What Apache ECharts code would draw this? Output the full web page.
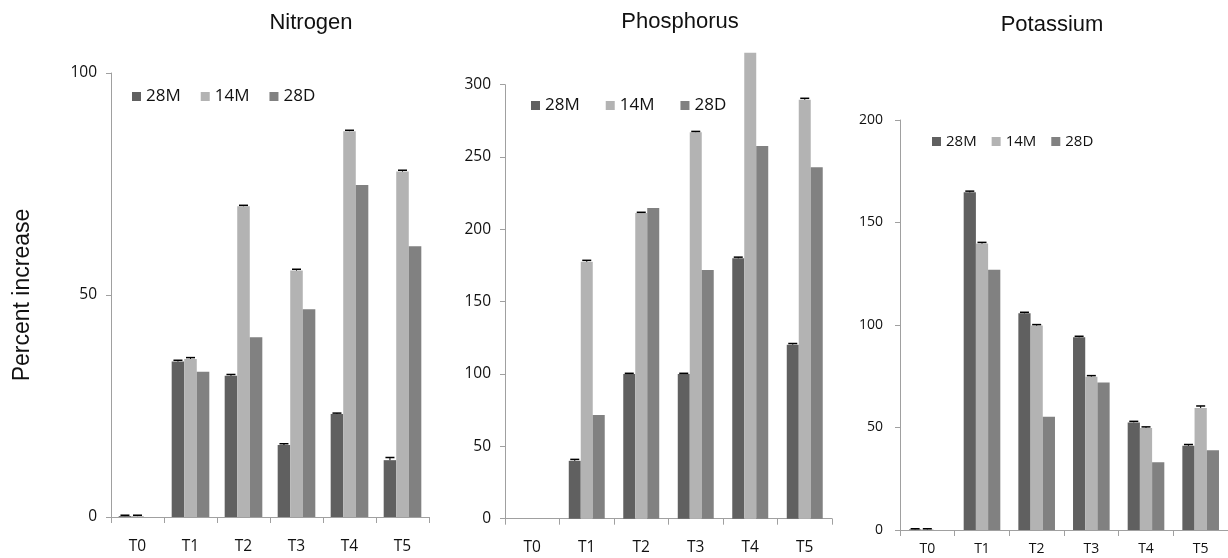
<!DOCTYPE html>
<html>
<head>
<meta charset="utf-8">
<script src="https://cdn.jsdelivr.net/npm/echarts@6/dist/echarts.min.js"></script>
<style>html,body{margin:0;padding:0;background:#fff;}#c{width:1228px;height:558px;}</style>
</head>
<body>
<div id="c"></div>
<script>
const categories = ['T0', 'T1', 'T2', 'T3', 'T4', 'T5'];
const seriesNames = ['28M', '14M', '28D'];
const panelTitles = ['Nitrogen', 'Phosphorus', 'Potassium'];
const yAxisName = 'Percent increase';
const yAxisMax = [100, 300, 200];
const yAxisInterval = [50, 50, 50];

const nitrogen28M = [0.2, 35.0, 31.8, 16.2, 23.2, 12.8];
const nitrogen14M = [0.2, 35.6, 70.0, 55.5, 86.9, 77.8];
const nitrogen28D = [0, 32.7, 40.5, 46.8, 74.8, 61.0];
const nitrogenErr28M = [0.2, 0.3, 0.3, 0.3, 0.2, 0.6];
const nitrogenErr14M = [0.2, 0.3, 0.2, 0.3, 0.2, 0.3];

const phosphorus28M = [0, 40, 100, 100, 180, 120.3];
const phosphorus14M = [0, 177.6, 211.3, 267.2, 322, 289.6];
const phosphorus28D = [0, 71.7, 214.7, 171.9, 257.6, 243];
const phosphorusErr28M = [null, 1, 0.5, 0.5, 0.8, 0.8];
const phosphorusErr14M = [null, 1, 0.5, 0.5, null, 1];

const potassium28M = [0.3, 164.7, 105.7, 94, 52.5, 41.1];
const potassium14M = [0.3, 139.7, 99.7, 74.8, 49.8, 59.5];
const potassium28D = [0, 127, 55.3, 72, 33, 38.9];
const potassiumErr28M = [0.3, 0.6, 0.5, 0.5, 0.5, 0.6];
const potassiumErr14M = [0.3, 0.6, 0.5, 0.5, 0.5, 1.0];

const colors = ['#606060', '#b3b3b3', '#818181'];
const gaps = [0.29, 0.34, 0.33];

const panels = [
  { values: [nitrogen28M, nitrogen14M, nitrogen28D], errs: [nitrogenErr28M, nitrogenErr14M, null] },
  { values: [phosphorus28M, phosphorus14M, phosphorus28D], errs: [phosphorusErr28M, phosphorusErr14M, null] },
  { values: [potassium28M, potassium14M, potassium28D], errs: [potassiumErr28M, potassiumErr14M, null] }
];

const grids = [
  { left: 111, top: 73, width: 318, height: 444 },
  { left: 505, top: 84.7, width: 327, height: 434 },
  { left: 900, top: 120, width: 336, height: 410 }
];
const xLabelMargin = [22, 21, 12];
const yLabelMargin = [14, 14, 17];
const labelSize = [15.5, 15.5, 14];
const legendPos = [
  { left: 127, top: 83, itemGap: 20, fontSize: 17 },
  { left: 526, top: 92, itemGap: 26, fontSize: 17 },
  { left: 927, top: 129, itemGap: 15, fontSize: 15 }
];
const titlePos = [[311, 23], [680, 22], [1052, 25]];

const axisColor = '#a0a0a0';
const tickFont = '"Open Sans", sans-serif';

function errRender(gapFrac, k) {
  return function (params, api) {
    const i = api.value(0), v = api.value(1), e = api.value(2);
    if (e == null || isNaN(e)) return null;
    const catW = api.size([1, 0])[0];
    const barW = catW * (1 - gapFrac) / 3;
    const c = api.coord([i, v]);
    const x = c[0] + (k - 1) * barW;
    const yTop = api.coord([i, v + e])[1];
    const yBase = c[1];
    const hw = 4.5;
    return {
      type: 'group',
      children: [
        { type: 'line', shape: { x1: x, y1: yTop, x2: x, y2: yBase }, style: { stroke: '#000', lineWidth: 1 } },
        { type: 'line', shape: { x1: x - hw, y1: yTop, x2: x + hw, y2: yTop }, style: { stroke: '#000', lineWidth: 1.5 } }
      ]
    };
  };
}

const xAxes = [], yAxes = [], series = [], legends = [], graphics = [];
panels.forEach((p, gi) => {
  xAxes.push({
    type: 'category', gridIndex: gi, data: categories,
    axisLine: { lineStyle: { color: axisColor, width: 1 } },
    axisTick: { show: true, length: 6, lineStyle: { color: axisColor } },
    axisLabel: { color: '#111', fontFamily: tickFont, fontSize: labelSize[gi], margin: xLabelMargin[gi] }
  });
  yAxes.push({
    type: 'value', gridIndex: gi, min: 0, max: yAxisMax[gi], interval: yAxisInterval[gi],
    axisLine: { show: true, lineStyle: { color: axisColor, width: 1 } },
    axisTick: { show: true, length: 5, lineStyle: { color: axisColor } },
    splitLine: { show: false },
    axisLabel: { color: '#111', fontFamily: tickFont, fontSize: labelSize[gi], margin: yLabelMargin[gi] },
    name: gi === 0 ? yAxisName : '',
    nameLocation: 'middle', nameGap: 77, nameRotate: 90,
    nameTextStyle: { fontFamily: '"Liberation Sans", Arial, sans-serif', fontSize: 23, color: '#111' }
  });
  p.values.forEach((vals, k) => {
    series.push({
      type: 'bar', name: seriesNames[k], xAxisIndex: gi, yAxisIndex: gi,
      data: vals, barGap: '0%', barCategoryGap: (gaps[gi] * 100) + '%',
      itemStyle: { color: colors[k] }, clip: false, animation: false
    });
  });
  p.errs.forEach((errs, k) => {
    if (!errs) return;
    series.push({
      type: 'custom', name: 'err' + gi + k, xAxisIndex: gi, yAxisIndex: gi, z: 5, clip: false,
      renderItem: errRender(gaps[gi], k), animation: false, silent: true,
      data: categories.map((c, i) => [i, p.values[k][i], errs[i]]),
      encode: { x: 0, y: 1 }
    });
  });
  legends.push({
    left: legendPos[gi].left, top: legendPos[gi].top, orient: 'horizontal',
    data: seriesNames.map(n => ({ name: n, icon: 'rect' })),
    itemWidth: 9, itemHeight: 9, itemGap: legendPos[gi].itemGap,
    textStyle: { fontFamily: tickFont, fontSize: legendPos[gi].fontSize, color: '#111' },
    selectedMode: false
  });
  graphics.push({
    type: 'text', x: titlePos[gi][0], y: titlePos[gi][1],
    style: { text: panelTitles[gi], fill: '#111', font: '22px "Liberation Sans", Arial, sans-serif', textAlign: 'center', textVerticalAlign: 'middle' }
  });
});

const chart = echarts.init(document.getElementById('c'), null, { renderer: 'canvas' });
chart.setOption({
  animation: false,
  backgroundColor: '#fff',
  grid: grids,
  xAxis: xAxes,
  yAxis: yAxes,
  legend: legends,
  series: series,
  graphic: graphics
});
</script>
</body>
</html>
